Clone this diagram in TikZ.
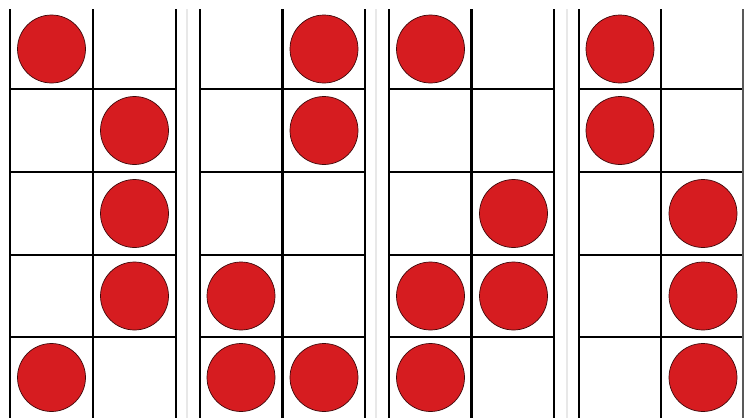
\documentclass[tikz,border=0pt]{standalone}
\definecolor{dotred}{RGB}{214,28,32}
\definecolor{faint}{RGB}{232,232,232}
\tikzset{
  gridline/.style={line width=2.8pt, black},
  dot/.style={fill=dotred, draw=black!70!dotred, line width=0.7pt},
  sepline/.style={line width=1.2pt, faint}
}
\begin{document}
\begin{tikzpicture}[x=1pt,y=-1pt]
\useasboundingbox (0,0) rectangle (744,418);
\fill[white] (0,0) rectangle (744,418);
% faint separators
\foreach \sx in {187,376,567}{
  \draw[sepline] (\sx,9) -- (\sx,418);
}
% frames
\foreach \L/\R in {10/176, 200/365, 389/554, 579/743}{
  \pgfmathsetmacro{\M}{(\L+\R)/2}
  \draw[gridline] (\M,9) -- (\M,418);
  \foreach \hy in {89,172,255,337}{
    \draw[gridline] (\L,\hy) -- (\R,\hy);
  }
  \draw[gridline] (\L,9) -- (\L,418);
}
\draw[line width=1.8pt, black!65] (743,9) -- (743,418);
\draw[gridline] (176,9) -- (176,418);
\draw[gridline] (365,9) -- (365,418);
\draw[gridline] (554,9) -- (554,418);
% dots
\foreach \cx/\cy in {51.5/49, 134.5/130.5, 134.5/213.5, 134.5/296, 51.5/377.5,
  324/49, 324/130.5, 241/296, 241/377.5, 324/377.5,
  430.5/49, 513.5/213.5, 430.5/296, 513.5/296, 430.5/377.5,
  620/49, 620/130.5, 703/213.5, 703/296, 703/377.5}{
  \path[dot] (\cx,\cy) circle (34);
}
\end{tikzpicture}
\end{document}
